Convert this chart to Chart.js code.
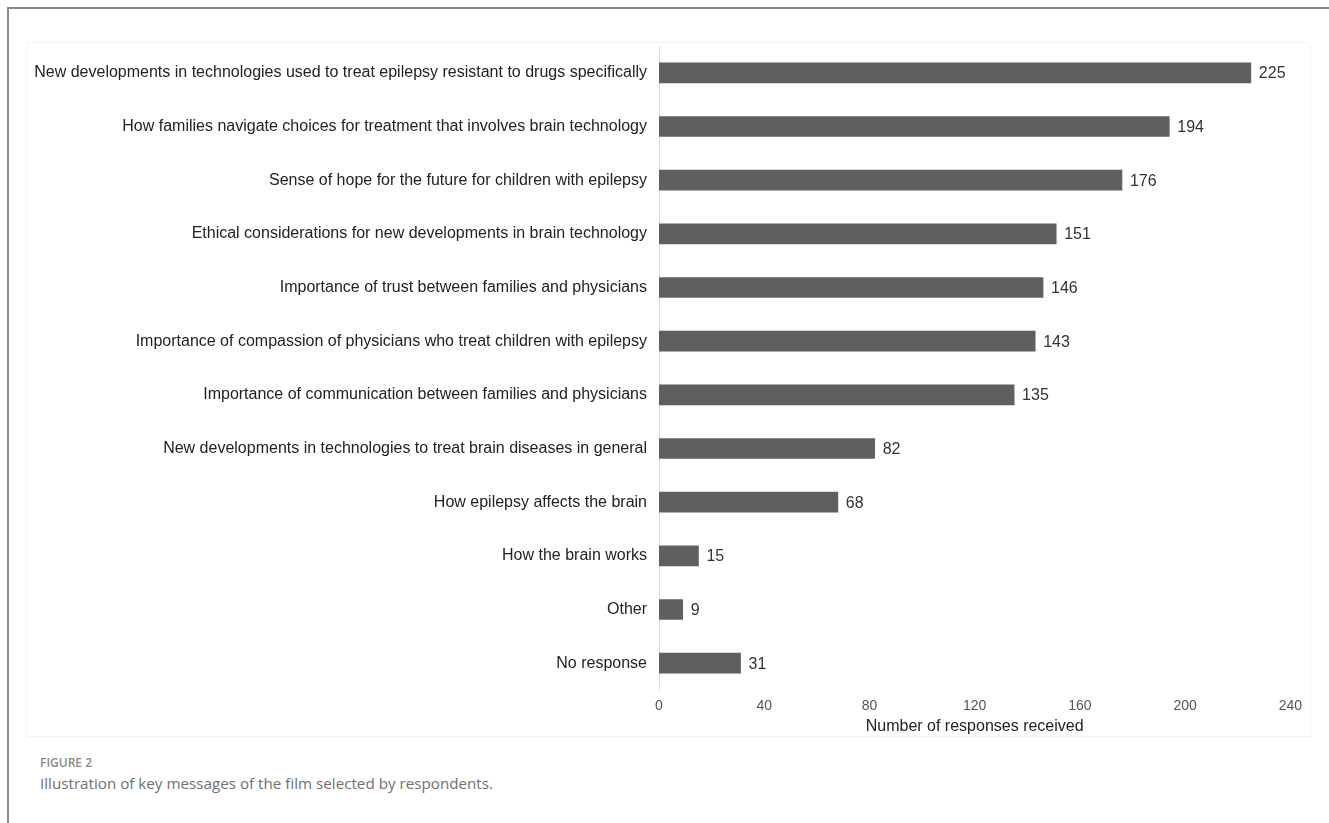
<!DOCTYPE html>
<html>
<head>
<meta charset="utf-8">
<script src="https://cdn.jsdelivr.net/npm/chart.js@4"></script>
<style>
  html, body { margin: 0; padding: 0; background: #fff; }
  body { width: 1329px; height: 823px; position: relative; overflow: hidden; }
  .frame-left { position: absolute; left: 7px; top: 7px; width: 2px; height: 816px; background: #8a8a8a; }
  .frame-top { position: absolute; left: 7px; top: 7px; width: 1322px; height: 2px; background: #8a8a8a; }
  .box { position: absolute; left: 27px; top: 42px; width: 1282px; height: 693px; border: 1px solid #f3f3f3; }
  #chart { position: absolute; left: 0; top: 0; }
  .fig-label { position: absolute; left: 40px; top: 754px; font-family: "Open Sans", sans-serif; font-size: 12px; font-weight: 600; color: #8a8a8a; }
  .fig-caption { position: absolute; left: 40px; top: 773px; font-family: "Open Sans", sans-serif; font-size: 15.2px; color: #707070; }
</style>
</head>
<body>
<div class="frame-left"></div>
<div class="frame-top"></div>
<div class="box"><canvas id="chart" width="1282" height="693"></canvas></div>
<div class="fig-label">FIGURE 2</div>
<div class="fig-caption">Illustration of key messages of the film selected by respondents.</div>

<script>
// ===== data =====
const categories = [
  "New developments in technologies used to treat epilepsy resistant to drugs specifically",
  "How families navigate choices for treatment that involves brain technology",
  "Sense of hope for the future for children with epilepsy",
  "Ethical considerations for new developments in brain technology",
  "Importance of trust between families and physicians",
  "Importance of compassion of physicians who treat children with epilepsy",
  "Importance of communication between families and physicians",
  "New developments in technologies to treat brain diseases in general",
  "How epilepsy affects the brain",
  "How the brain works",
  "Other",
  "No response"
];
const responses = [225, 194, 176, 151, 146, 143, 135, 82, 68, 15, 9, 31];
const xTicks = [0, 40, 80, 120, 160, 200, 240];
const xTitle = "Number of responses received";

const FONT = "'Liberation Sans', Arial, sans-serif";

// value labels at the end of each bar
const valueLabels = {
  id: "valueLabels",
  afterDatasetsDraw(chart) {
    const ctx = chart.ctx;
    const meta = chart.getDatasetMeta(0);
    ctx.save();
    ctx.font = "16px " + FONT;
    ctx.fillStyle = "#333";
    ctx.textBaseline = "middle";
    ctx.textAlign = "left";
    meta.data.forEach((bar, i) => {
      ctx.fillText(String(responses[i]), bar.x + 8, bar.y + 1);
    });
    ctx.restore();
  }
};

new Chart(document.getElementById("chart"), {
  type: "bar",
  data: {
    labels: categories,
    datasets: [{
      data: responses,
      backgroundColor: "#5f5f5f",
      borderWidth: 0,
      barThickness: 20
    }]
  },
  options: {
    indexAxis: "y",
    responsive: false,
    animation: false,
    layout: { padding: { top: 3, right: 13, bottom: 0, left: 0 } },
    plugins: {
      legend: { display: false },
      tooltip: { enabled: false }
    },
    scales: {
      x: {
        min: 0,
        max: 240,
        afterBuildTicks(axis) { axis.ticks = xTicks.map(v => ({ value: v })); },
        afterFit(axis) { axis.height = 46; },
        grid: { display: false, drawTicks: false },
        border: { display: false },
        ticks: {
          padding: 8,
          color: "#555",
          font: { family: FONT, size: 14 }
        },
        title: {
          display: true,
          text: xTitle,
          color: "#222",
          padding: { top: 0, bottom: 0 },
          font: { family: FONT, size: 16 }
        }
      },
      y: {
        afterFit(axis) {
          axis.width = 631;
          axis.paddingTop = 0;
          axis.paddingBottom = 0;
        },
        grid: { display: false, drawTicks: false },
        border: { display: true, color: "#dcdcdc", width: 1 },
        ticks: {
          padding: 12,
          color: "#222",
          autoSkip: false,
          font: { family: FONT, size: 16 }
        }
      }
    }
  },
  plugins: [valueLabels]
});
</script>
</body>
</html>
